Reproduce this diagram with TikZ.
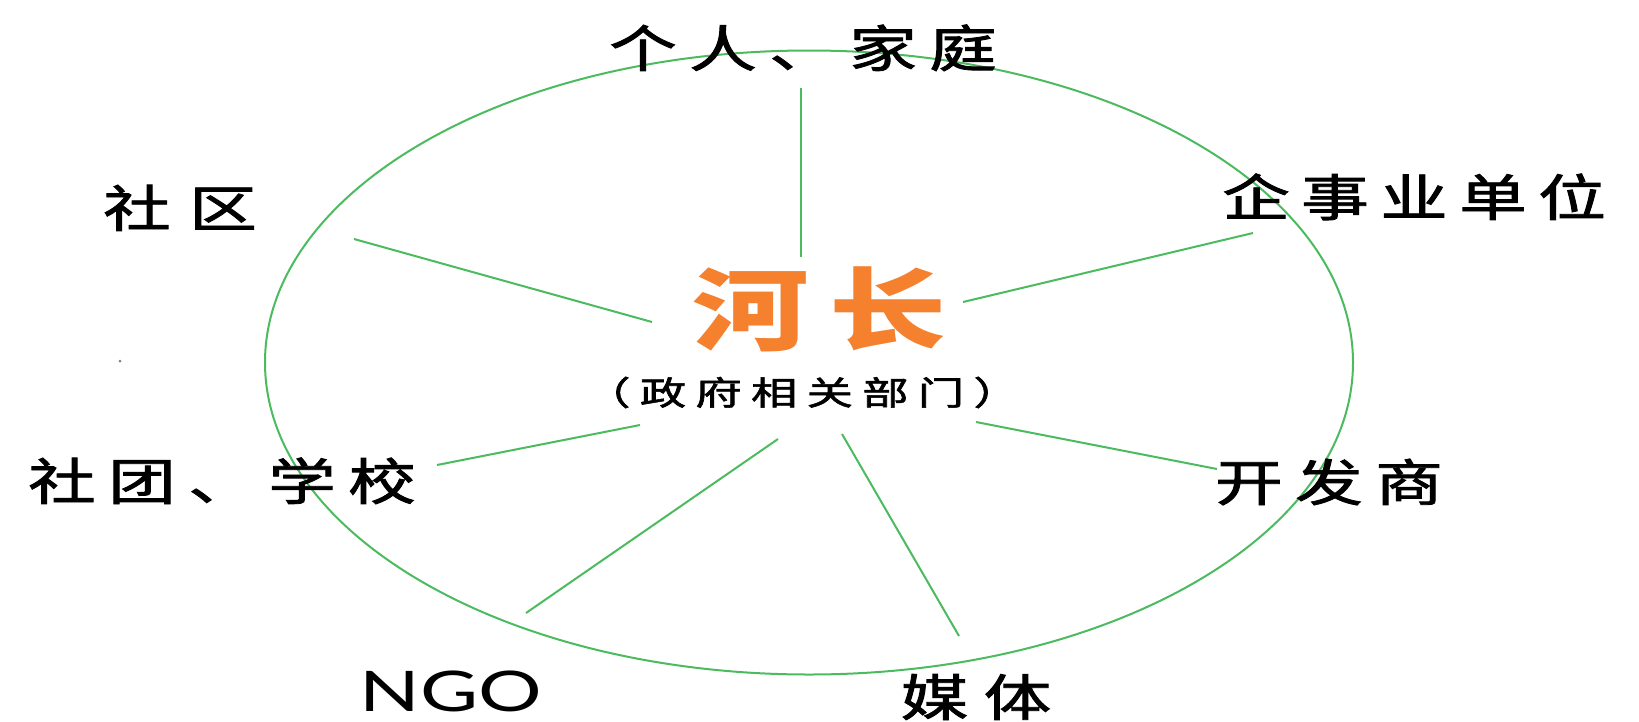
\documentclass[tikz,border=0pt]{standalone}
\usepackage{fontspec}
\usepackage{graphicx}
\newfontfamily\cjk{Noto Sans CJK SC}
\newfontfamily\cjkmed{Noto Sans CJK SC}[FakeBold=1.6]
\newfontfamily\latfont{Lato}
\definecolor{ringgreen}{RGB}{76,187,96}
\definecolor{heorange}{RGB}{245,128,45}
\makeatletter
\newcommand\spreadtext[3]{%
  \@tfor\spreadch:=#3\do{\makebox[#1][c]{\scalebox{#2}[1]{\spreadch}}}}
\makeatother
\tikzset{
  ring/.style={draw=ringgreen, line width=2pt},
  lbl/.style={inner sep=0pt, anchor=base, text=black, font=\cjkmed\fontsize{50}{60}\selectfont},
}
\begin{document}
\begin{tikzpicture}[x=1pt,y=-1pt]
\fill[white] (0,0) rectangle (1639,721);
\useasboundingbox (0,0) rectangle (1639,721);

% ring
\draw[ring] (809,362.5) ellipse [x radius=544pt, y radius=312pt];

% labels
\node[lbl] (fam) at (803,67) {\spreadtext{80pt}{1.35}{个人、家庭}};
\node[lbl] (sq) at (180,227) {\spreadtext{86pt}{1.35}{社区}};
\node[lbl] (st) at (222,500) {\spreadtext{80pt}{1.35}{社团、学校}};
\node[lbl] (qy) at (1414,216) {\spreadtext{79pt}{1.35}{企事业单位}};
\node[lbl] (kf) at (1329,501) {\spreadtext{80pt}{1.35}{开发商}};
\node[lbl] (mt) at (976,716) {\spreadtext{83pt}{1.35}{媒体}};
\node[inner sep=0pt, anchor=base, font=\latfont\fontsize{56}{60}\selectfont] (ngo) at (451,711) {\scalebox{1.42}[1]{NGO}};

% centre
\node[inner sep=0pt, anchor=base, text=heorange, font=\cjk\bfseries\fontsize{90}{100}\selectfont] (he) at (819,343) {\spreadtext{137pt}{1.3}{河长}};
\node[inner sep=0pt, anchor=base, text=black, font=\cjkmed\fontsize{33}{40}\selectfont] (gov) at (802,405) {\spreadtext{55.6pt}{1.4}{（政府相关部门）}};

% stray dot
\fill[gray] (120,361) circle (1.5pt);

% rays
\coordinate (t1) at (801,88);  \coordinate (t2) at (801,257);
\coordinate (s1) at (354,239); \coordinate (s2) at (652,322);
\coordinate (q1) at (1253,233); \coordinate (q2) at (963,302);
\coordinate (k1) at (976,422); \coordinate (k2) at (1217,469);
\coordinate (x1) at (437,465); \coordinate (x2) at (640,425);
\coordinate (n1) at (526,613); \coordinate (n2) at (778,439);
\coordinate (m1) at (842,434); \coordinate (m2) at (959,636);
\draw[ring] (t1) -- (t2);
\draw[ring] (s1) -- (s2);
\draw[ring] (q1) -- (q2);
\draw[ring] (k1) -- (k2);
\draw[ring] (x1) -- (x2);
\draw[ring] (n1) -- (n2);
\draw[ring] (m1) -- (m2);
\end{tikzpicture}
\end{document}
